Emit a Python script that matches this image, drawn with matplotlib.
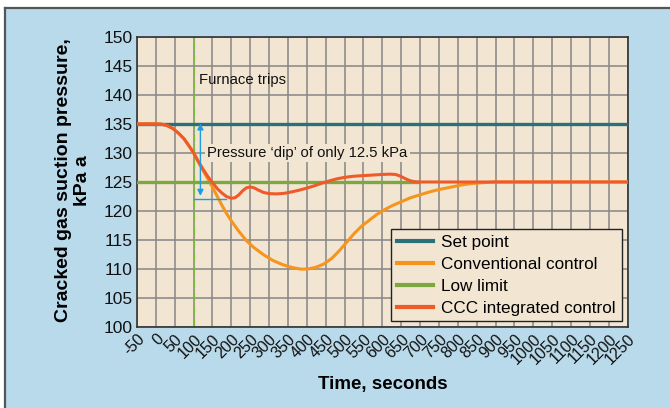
import matplotlib
matplotlib.use("Agg")
import matplotlib.pyplot as plt
from matplotlib.patches import Rectangle

plt.rcParams['font.family'] = ['Liberation Sans', 'DejaVu Sans']

# time axis ticks
x_ticks = list(range(-50, 1251, 50))
y_ticks = list(range(100, 151, 5))

trip_time = 100

# set point and low limit spans
sp_x = [-50, 1250]
sp_y = [135, 135]
ll_x = [-50, 695]
ll_y = [125, 125]

# CCC integrated control
ccc_x = [-50, 0, 15, 30, 45, 60, 75, 90, 100, 112, 125, 137, 150, 162, 175, 187,
         200, 210, 220, 230, 240, 250, 260, 272, 285, 300, 320, 340, 360, 380,
         400, 420, 440, 460, 480, 500, 525, 550, 575, 600, 620, 635, 648, 660,
         672, 685, 700, 1250]
ccc_y = [135, 135, 134.95, 134.7, 134.2, 133.4, 132.4, 131.0, 130.0, 128.6, 127.2,
         126.0, 124.9, 123.9, 123.1, 122.5, 122.2, 122.3, 122.8, 123.5, 124.0,
         124.15, 124.0, 123.6, 123.2, 123.0, 122.95, 123.05, 123.3, 123.6, 123.95,
         124.35, 124.8, 125.2, 125.55, 125.8, 126.0, 126.1, 126.2, 126.3, 126.35,
         126.3, 126.0, 125.6, 125.25, 125.05, 125.0, 125.0]

# conventional control
conv_x = [-50, 0, 15, 30, 45, 60, 75, 90, 100, 112, 125, 137, 150, 162, 175, 187,
          200, 220, 240, 260, 285, 310, 335, 360, 385, 405, 425, 445, 465, 485,
          505, 525, 545, 565, 585, 605, 625, 650, 675, 700, 725, 750, 780, 810,
          840, 870, 900, 1250]
conv_y = [135, 135, 134.95, 134.7, 134.2, 133.4, 132.4, 131.0, 130.0, 128.5, 127.0,
          125.6, 124.1, 122.6, 121.0, 119.6, 118.3, 116.5, 114.9, 113.7, 112.5,
          111.5, 110.8, 110.3, 110.0, 110.05, 110.35, 110.9, 111.8, 113.1, 114.6,
          116.1, 117.4, 118.4, 119.4, 120.2, 120.9, 121.6, 122.3, 122.8, 123.3,
          123.7, 124.1, 124.5, 124.75, 124.9, 125.0, 125.0]

blue_bg = '#b9daea'
beige = '#f2e6d3'

fig = plt.figure(figsize=(6.7, 4.08), dpi=100)
fig.patch.set_facecolor(blue_bg)
fig.add_artist(Rectangle((0, 1 - 7 / 408), 1, 7 / 408, transform=fig.transFigure,
                         facecolor='white', edgecolor='none', zorder=-10))
fig.add_artist(Rectangle((0, 0), 4.5 / 670, 1, transform=fig.transFigure,
                         facecolor='white', edgecolor='none', zorder=-10))
fig.add_artist(plt.Line2D([5 / 670, 1], [1 - 7.5 / 408, 1 - 7.5 / 408], transform=fig.transFigure,
                          color='#555555', lw=1.6, zorder=-9))
fig.add_artist(plt.Line2D([5 / 670, 5 / 670], [0, 1 - 7.5 / 408], transform=fig.transFigure,
                          color='#555555', lw=1.6, zorder=-9))

ax = fig.add_axes([137 / 670, 1 - 327.3 / 408, 490.7 / 670, 290.6 / 408])
ax.set_facecolor(beige)
ax.set_xlim(-50, 1250)
ax.set_ylim(100, 150)
ax.set_xticks(x_ticks)
ax.set_yticks(y_ticks)
ax.set_xticklabels([str(t) for t in x_ticks], rotation=45, ha='right',
                   rotation_mode='anchor', fontsize=11.5)
ax.set_yticklabels([str(t) for t in y_ticks], fontsize=12.5)
ax.tick_params(length=0, pad=3, colors='#111111')
ax.grid(True, color='#8a8a8a', lw=1.15)
ax.set_axisbelow(True)
for s in ax.spines.values():
    s.set_color('#333333')
    s.set_linewidth(1.2)

ax.axvline(trip_time, color='#7dbb3a', lw=0.9, ls='-.', zorder=2)

ax.plot(sp_x, sp_y, color='#2b7078', lw=2.4, label='Set point', zorder=3)
ax.plot(conv_x, conv_y, color='#f7941d', lw=2.2, label='Conventional control', zorder=3)
ax.plot(ll_x, ll_y, color='#7da73f', lw=2.4, label='Low limit', zorder=3)
ax.plot(ccc_x, ccc_y, color='#f05a28', lw=2.2, label='CCC integrated control', zorder=4)

# pressure dip arrow
ax.annotate('', xy=(118, 122.6), xytext=(118, 135.1),
            arrowprops=dict(arrowstyle='<|-|>', color='#1b9ee0', lw=1.0,
                            mutation_scale=9, shrinkA=0, shrinkB=0), zorder=5)
ax.plot([100, 185], [122.1, 122.1], color='#1b9ee0', lw=1.0, zorder=5)

ax.text(113, 142.5, 'Furnace trips', fontsize=10.7, va='center', ha='left', color='#111111')
ax.text(136, 130, 'Pressure \u2018dip\u2019 of only 12.5 kPa', fontsize=10.7, va='center',
        ha='left', color='#111111',
        bbox=dict(facecolor=beige, edgecolor='none', pad=1.5), zorder=5)

ax.set_xlabel('Time, seconds', fontsize=13.5, fontweight='bold', labelpad=6)
ax.set_ylabel('Cracked gas suction pressure,\nkPa a', fontsize=14, fontweight='bold')
ax.yaxis.set_label_coords(-0.093, 0.505)

leg = ax.legend(loc='lower right', bbox_to_anchor=(0.988, 0.02), fontsize=12.3,
                frameon=True, fancybox=False, handlelength=2.1, labelspacing=0.4,
                borderpad=0.35, handletextpad=0.5, borderaxespad=0)
leg.get_frame().set_facecolor(beige)
leg.get_frame().set_edgecolor('#222222')
leg.get_frame().set_alpha(1)
leg.get_frame().set_linewidth(1.0)
for line in leg.get_lines():
    line.set_linewidth(3)
leg.set_zorder(6)

fig.savefig('out.png', dpi=100, facecolor=fig.get_facecolor())
